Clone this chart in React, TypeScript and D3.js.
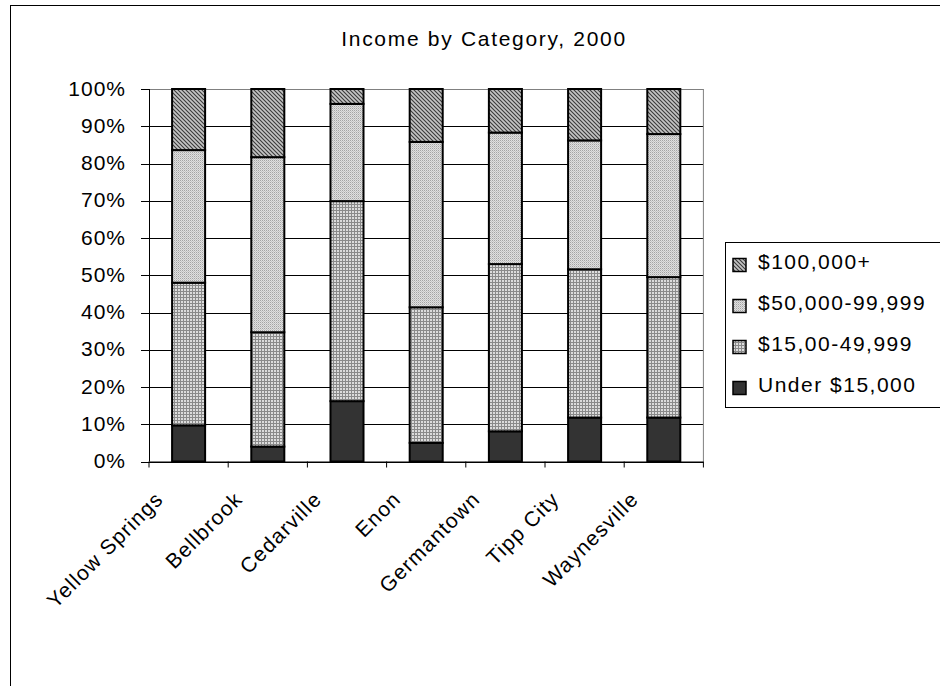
import React from "react";
import * as d3 from "d3";

// Share of households by income bracket (percent), 2000
const categories = ["Yellow Springs", "Bellbrook", "Cedarville", "Enon", "Germantown", "Tipp City", "Waynesville"];
const under15k = [9.7, 4.0, 16.2, 5.0, 8.1, 11.8, 11.8];
const from15kTo50k = [38.3, 30.7, 53.7, 36.4, 44.9, 39.8, 37.7];
const from50kTo100k = [35.6, 47.0, 26.1, 44.4, 35.3, 34.6, 38.4];
const over100k = [16.4, 18.3, 4.0, 14.2, 11.7, 13.8, 12.1];

const seriesKeys = ["under", "low", "mid", "high"];
const seriesLabels: Record<string, string> = {
  high: "$100,000+",
  mid: "$50,000-99,999",
  low: "$15,00-49,999",
  under: "Under $15,000",
};
const legendOrder = ["high", "mid", "low", "under"];
const yTicks = [0, 10, 20, 30, 40, 50, 60, 70, 80, 90, 100];

const FONT = "'Liberation Sans', Arial, Helvetica, sans-serif";

const fills: Record<string, string> = {
  under: "#333333",
  low: "url(#patLow)",
  mid: "url(#patMid)",
  high: "url(#patHigh)",
};

export default function App() {
  const W = 940;
  const H = 686;
  const plot = { left: 149, right: 703.4, top: 89, bottom: 461.5 };

  const rows = categories.map((c, i) => ({
    name: c,
    under: under15k[i],
    low: from15kTo50k[i],
    mid: from50kTo100k[i],
    high: over100k[i],
  }));

  const x = d3
    .scaleBand<string>()
    .domain(categories)
    .range([plot.left, plot.right])
    .paddingInner(0.583)
    .paddingOuter(0.2915);
  const y = d3.scaleLinear().domain([0, 100]).range([plot.bottom, plot.top]);

  const stacked = d3.stack<any>().keys(seriesKeys)(rows);
  const step = x.step();
  const boundaries = d3.range(categories.length + 1).map((i) => plot.left + i * step);

  return (
    <svg
      width={W}
      height={H}
      style={{ position: "absolute", left: 0, top: 0, background: "#fff" }}
      fontFamily={FONT}
    >
      <defs>
        <pattern id="patHigh" patternUnits="userSpaceOnUse" width={4} height={4}>
          <rect width={4} height={4} fill="#c4c4c4" />
          <path d="M0,0 L4,4 M-1,3 L1,5 M3,-1 L5,1" stroke="#3a3a3a" strokeWidth={1.1} />
        </pattern>
        <pattern id="patMid" patternUnits="userSpaceOnUse" width={2} height={2}>
          <rect width={2} height={2} fill="#e0e0e0" />
          <rect width={1} height={1} fill="#a4a4a4" />
          <rect x={1} y={1} width={1} height={1} fill="#c4c4c4" />
        </pattern>
        <pattern id="patLow" patternUnits="userSpaceOnUse" width={3} height={3}>
          <rect width={3} height={3} fill="#dcdcdc" />
          <rect width={3} height={1} fill="#8a8a8a" />
          <rect width={1} height={3} fill="#8a8a8a" />
        </pattern>
      </defs>

      {/* outer chart frame */}
      <rect x={10.5} y={5.5} width={960} height={700} fill="#fff" stroke="#000" strokeWidth={1} />

      {/* title */}
      <text x={484} y={46} textAnchor="middle" fontSize={21} letterSpacing={1.7} fill="#000">
        Income by Category, 2000
      </text>

      {/* horizontal gridlines */}
      {yTicks.map((t) => (
        <line
          key={`g${t}`}
          x1={plot.left}
          x2={plot.right}
          y1={Math.round(y(t)) + 0.5}
          y2={Math.round(y(t)) + 0.5}
          stroke={t === 100 ? "#808080" : "#000"}
          strokeWidth={1}
        />
      ))}
      {/* right plot edge */}
      <line x1={plot.right} x2={plot.right} y1={plot.top} y2={plot.bottom} stroke="#808080" strokeWidth={1} />

      {/* stacked bars */}
      {stacked.map((s) =>
        s.map((d, i) => (
          <rect
            key={`${s.key}-${i}`}
            x={x(categories[i])!}
            y={y(d[1])}
            width={x.bandwidth()}
            height={y(d[0]) - y(d[1])}
            fill={fills[s.key]}
            stroke="#000"
            strokeWidth={2}
          />
        ))
      )}

      {/* y axis */}
      <line x1={plot.left + 0.5} x2={plot.left + 0.5} y1={plot.top} y2={plot.bottom} stroke="#000" />
      {yTicks.map((t) => (
        <g key={`yt${t}`}>
          <line
            x1={plot.left - 8}
            x2={plot.left}
            y1={Math.round(y(t)) + 0.5}
            y2={Math.round(y(t)) + 0.5}
            stroke="#000"
          />
          <text x={126} y={y(t) + 6.5} textAnchor="end" fontSize={21} letterSpacing={1} fill="#000">
            {`${t}%`}
          </text>
        </g>
      ))}

      {/* x axis */}
      <line x1={plot.left} x2={plot.right} y1={plot.bottom + 0.5} y2={plot.bottom + 0.5} stroke="#000" />
      {boundaries.map((bx, i) => (
        <line key={`xt${i}`} x1={bx} x2={bx} y1={plot.bottom} y2={plot.bottom + 6} stroke="#000" />
      ))}
      {categories.map((c) => {
        const cx = x(c)! + x.bandwidth() / 2;
        return (
          <text
            key={`xl${c}`}
            transform={`translate(${cx - 24},${plot.bottom + 39}) rotate(-45)`}
            textAnchor="end"
            fontSize={21}
            letterSpacing={1.2}
            fill="#000"
          >
            {c}
          </text>
        );
      })}

      {/* legend */}
      <rect x={725.5} y={242.5} width={240} height={165} fill="#fff" stroke="#000" strokeWidth={1} />
      {legendOrder.map((k, i) => {
        const base = 268.5 + i * 41;
        return (
          <g key={`lg${k}`}>
            <rect x={733} y={base - 10} width={13} height={13} fill={fills[k]} stroke="#000" strokeWidth={1.5} />
            <text x={758} y={base} fontSize={21} letterSpacing={1.5} fill="#000">
              {seriesLabels[k]}
            </text>
          </g>
        );
      })}
    </svg>
  );
}
